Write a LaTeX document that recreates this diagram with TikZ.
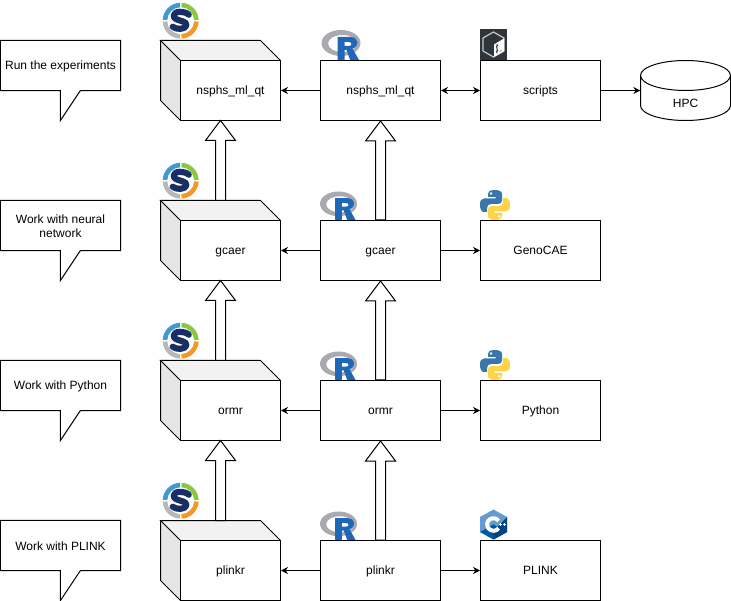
\documentclass[tikz,border=0pt]{standalone}
\usepackage{fontspec}
\setmainfont{Liberation Sans}
\usetikzlibrary{calc,arrows.meta}
\definecolor{topface}{HTML}{F2F2F2}
\definecolor{sideface}{HTML}{E6E6E6}
\definecolor{smkblue}{HTML}{3A9BD5}
\definecolor{smkgreen}{HTML}{8DC63F}
\definecolor{smkorange}{HTML}{F39A21}
\definecolor{smkgrey}{HTML}{B8B8B8}
\definecolor{smknavy}{HTML}{1A2E66}
\definecolor{rgrey}{HTML}{A8AAB0}
\definecolor{rblue}{HTML}{2167B8}
\definecolor{pyblue}{HTML}{3A76A8}
\definecolor{pyyellow}{HTML}{FFD545}
\definecolor{cpplight}{HTML}{659AD2}
\definecolor{cppmid}{HTML}{00599C}
\definecolor{cppdark}{HTML}{004482}
\definecolor{bashdark}{HTML}{2D343A}
\definecolor{bashline}{HTML}{C4C8CB}
\tikzset{
  boxnode/.style={draw=black,fill=white,line width=1pt,minimum width=120pt,minimum height=60pt,inner sep=0pt,text height=10pt,text depth=2pt,font=\fontsize{12}{14}\selectfont},
  frontnode/.style={boxnode,minimum width=100pt},
  callshape/.style={minimum width=120pt,minimum height=50pt,inner sep=0pt},
  calltext/.style={inner sep=0pt,align=center,yshift=-1pt,font=\fontsize{12}{14}\selectfont},
  hpcnode/.style={minimum width=90pt,minimum height=28pt,inner sep=0pt,text height=10pt,text depth=2pt,font=\fontsize{12}{14}\selectfont},
  outline/.style={draw=black,line width=1pt,line join=miter},
  link/.style={line width=1pt,draw=black,-{Stealth[length=7pt,width=7pt]}},
  biglink/.style={line width=1pt,draw=black,{Stealth[length=7pt,width=7pt]}-{Stealth[length=7pt,width=7pt]}},
  blockarrow/.style={draw=black,fill=white,line width=1pt,line join=miter},
  sring/.pic={
    \foreach \a/\c in {180/smkblue,270/smkgreen,0/smkorange,90/smkgrey}{
      \fill[\c] (\a+3:18) arc[start angle=\a+3,end angle=\a+87,radius=18]
        -- (\a+87:13.5) arc[start angle=\a+87,end angle=\a+3,radius=13.5] -- cycle;
    }
    \draw[smknavy,line width=6.2pt,line cap=round,line join=round]
      (8,-6) .. controls (4,-10) and (-7,-10) .. (-7,-5)
      .. controls (-7,1) and (7,-1) .. (5.5,5)
      .. controls (4.5,9) and (-5,9) .. (-8,6);
  },
  rlogo/.pic={
    \fill[rgrey,even odd rule] (19.5,13) ellipse[x radius=19.5,y radius=13]
      (21,13.5) ellipse[x radius=14.5,y radius=8.5];
    \fill[rblue,even odd rule] (16,7) -- (29,7) .. controls (38,7) and (38,17) .. (31,18.5)
      -- (38,31) -- (29,31) -- (25,20) -- (23,20) -- (23,31) -- (16,31) -- cycle
      (23,12) -- (27,12) .. controls (31,12) and (31,16) .. (27,16) -- (23,16) -- cycle;
  },
  pylogo/.pic={
    \foreach \r/\c in {0/pyblue,180/pyyellow}{
      \begin{scope}[rotate around={\r:(15,15)}]
        \fill[\c,even odd rule] (15,0) .. controls (9,0) and (8,2) .. (8,4) -- (8,7) -- (15.5,7) -- (15.5,8.5) -- (4,8.5)
          .. controls (1,8.5) and (0,11) .. (0,15) .. controls (0,19) and (1.5,22) .. (4,22) -- (7,22) -- (7,18)
          .. controls (7,15.5) and (9,14) .. (11,14) -- (18,14) .. controls (20.5,14) and (22,12.5) .. (22,10.5)
          -- (22,4) .. controls (22,1.5) and (19,0) .. (15,0) -- cycle
          (11,3.6) circle[radius=1.6];
      \end{scope}
    }
  },
  cpplogo/.pic={
    \fill[cpplight] (13.5,0) -- (27,7.5) -- (27,22.5) -- (13.5,30) -- (0,22.5) -- (0,7.5) -- cycle;
    \fill[cppmid] (27,22.5) -- (13.5,30) -- (0,22.5) -- (13.5,15) -- cycle;
    \fill[cppdark] (27,7.5) -- (27,22.5) -- (13.5,30) -- (13.5,22) -- (20,15) -- cycle;
    \draw[white,line width=4pt] (18.6,11.4) arc[start angle=-35,end angle=-325,radius=6.3];
    \foreach \x in {20.3,24.3}{
      \draw[white,line width=.9pt] (\x-1.4,15) -- (\x+1.4,15) (\x,13.6) -- (\x,16.4);
    }
  },
  bashlogo/.pic={
    \fill[bashdark] (0,0) rectangle (27,31);
    \draw[bashline,line width=1.2pt,line join=round] (13.5,3) -- (24,9) -- (24,22) -- (13.5,28) -- (3,22) -- (3,9) -- cycle;
    \fill[white] (24,9.5) -- (24,22) -- (14,27.7) -- (14,15.5) -- cycle;
    \draw[bashdark,line width=.9pt] (18,16) .. controls (16.5,15.8) and (15.8,19) .. (17,19.5)
      .. controls (18.2,20) and (18,23.5) .. (16,23) (17,15) -- (17,24.5);
    \draw[smkgreen,line width=1pt] (19.5,22.5) -- (22,21);
  },
}
\newcommand{\cubeblock}[4]{% name, front-centre x, y, label
  \fill[topface] (#2-50,#3-30) -- (#2-70,#3-50) -- (#2+30,#3-50) -- (#2+50,#3-30) -- cycle;
  \fill[sideface] (#2-50,#3-30) -- (#2-70,#3-50) -- (#2-70,#3+10) -- (#2-50,#3+30) -- cycle;
  \draw[outline] (#2-50,#3-30) -- (#2-70,#3-50) -- (#2+30,#3-50) -- (#2+50,#3-30);
  \draw[outline] (#2-70,#3-50) -- (#2-70,#3+10) -- (#2-50,#3+30);
  \node[frontnode] (#1) at (#2,#3) {#4};
  \coordinate (#1-top) at (#2-10,#3-50);
  \coordinate (#1-bottom) at (#2-10,#3+30);
}
\newcommand{\calloutblock}[4]{% name, x, y, text
  \node[callshape] (#1) at (#2,#3) {};
  \draw[outline,fill=white] (#1.north west) -- (#1.north east) -- (#1.south east)
    -- ($(#1.south west)+(80,0)$) -- ($(#1.south west)+(60,30)$) -- ($(#1.south west)+(60,0)$)
    -- (#1.south west) -- cycle;
  \node[calltext] (#1t) at (#1) {#4};
}
\newcommand{\blockup}[2]{% tail, tip
  \draw[blockarrow] (#2) -- ($(#2)+(15,20)$) -- ($(#2)+(5,20)$) -- ($(#1)+(5,0)$)
    -- ($(#1)+(-5,0)$) -- ($(#2)+(-5,20)$) -- ($(#2)+(-15,20)$) -- cycle;
}
\begin{document}
\begin{tikzpicture}[x=1pt,y=-1pt]
\useasboundingbox (0,0) rectangle (731,601);
% icons
\pic at (180.7,20.7) {sring};
\pic at (180.7,180.7) {sring};
\pic at (180.7,340.7) {sring};
\pic at (180.7,500.7) {sring};
\pic at (321.5,30) {rlogo};
\pic[scale=.95] at (320,191.5) {rlogo};
\pic[scale=.95] at (320,351.5) {rlogo};
\pic[scale=.95] at (320,511.5) {rlogo};
\pic at (480,29) {bashlogo};
\pic at (480,190) {pylogo};
\pic at (480,350) {pylogo};
\pic at (480,509.5) {cpplogo};
% callouts
\calloutblock{c1}{60.5}{65.5}{Run the experiments}
\calloutblock{c2}{60.5}{225.5}{Work with neural\\network}
\calloutblock{c3}{60.5}{385.5}{Work with Python}
\calloutblock{c4}{60.5}{545.5}{Work with PLINK}
% cubes
\cubeblock{qc}{230.5}{90.5}{nsphs\_ml\_qt}
\cubeblock{gc}{230.5}{250.5}{gcaer}
\cubeblock{oc}{230.5}{410.5}{ormr}
\cubeblock{pc}{230.5}{570.5}{plinkr}
% R packages
\node[boxnode] (qr) at (380.5,90.5) {nsphs\_ml\_qt};
\node[boxnode] (gr) at (380.5,250.5) {gcaer};
\node[boxnode] (or) at (380.5,410.5) {ormr};
\node[boxnode] (pr) at (380.5,570.5) {plinkr};
% tools
\node[boxnode] (sc) at (540.5,90.5) {scripts};
\node[boxnode] (ge) at (540.5,250.5) {GenoCAE};
\node[boxnode] (py) at (540.5,410.5) {Python};
\node[boxnode] (pl) at (540.5,570.5) {PLINK};
% HPC
\draw[outline,fill=white] (640.5,75.5) arc[start angle=180,end angle=360,x radius=45,y radius=15]
  -- (730.5,105.5) arc[start angle=0,end angle=180,x radius=45,y radius=15] -- cycle;
\draw[outline] (640.5,75.5) arc[start angle=180,end angle=0,x radius=45,y radius=15];
\node[hpcnode] (hpc) at (685.5,104) {HPC};
% connectors
\draw[link] (qr) -- (qc);
\draw[link] (gr) -- (gc);
\draw[link] (or) -- (oc);
\draw[link] (pr) -- (pc);
\draw[biglink] (qr) -- (sc);
\draw[link] (gr) -- (ge);
\draw[link] (or) -- (py);
\draw[link] (pr) -- (pl);
\draw[link] (sc.east) -- (sc.east -| hpc.west);
% block arrows
\blockup{gc-top}{qc-bottom}
\blockup{oc-top}{gc-bottom}
\blockup{pc-top}{oc-bottom}
\blockup{gr.north}{qr.south}
\blockup{or.north}{gr.south}
\blockup{pr.north}{or.south}
\end{tikzpicture}
\end{document}
